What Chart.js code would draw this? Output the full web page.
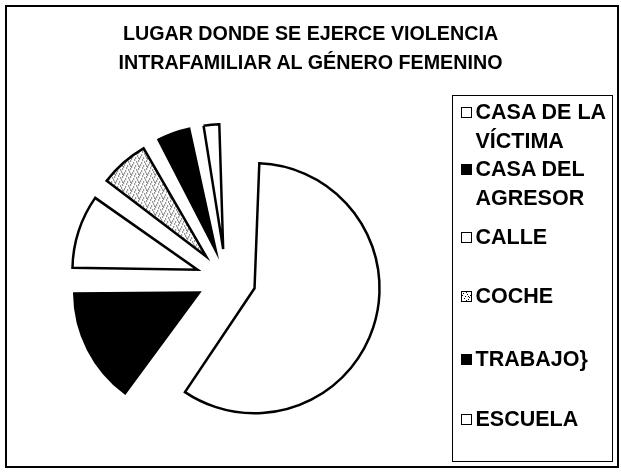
<!DOCTYPE html>
<html lang="es">
<head>
    <meta charset="UTF-8">
    <meta name="viewport" content="width=device-width, initial-scale=1.0">
    <title>Lugar donde se ejerce violencia intrafamiliar</title>
    <!-- Incluye la biblioteca Chart.js -->
    <script src="https://cdn.jsdelivr.net/npm/chart.js"></script>
    <style>
        body { margin: 0; background: #fff; }
        .container {
            position: relative; width: 621px; height: 472px;
            font-family: 'Liberation Sans', Arial, sans-serif; font-weight: bold; color: #000;
        }
        canvas { position: absolute; left: 0; top: 0; }
        .marco {
            position: absolute; left: 5px; top: 5px; width: 614px; height: 463px;
            border: 2px solid #000; box-sizing: border-box;
        }
        h1 {
            position: absolute; left: 0; top: 19px; width: 621px; margin: 0;
            text-align: center; font-size: 19.7px; line-height: 28.5px; font-weight: bold;
        }
        .leyenda {
            position: absolute; left: 452px; top: 95px; width: 161px; height: 367px;
            border: 1.5px solid #000; box-sizing: border-box; background: #fff;
        }
        .item { position: absolute; left: 22.5px; font-size: 21.5px; line-height: 29px; white-space: nowrap; }
        .caja {
            position: absolute; left: -15px; top: 9px; width: 11px; height: 11px;
            border: 1.5px solid #000; box-sizing: border-box;
        }
    </style>
</head>
<body>
    <div class="container">
        <canvas id="grafica" width="621" height="472"></canvas>
        <div class="marco"></div>
        <h1>LUGAR DONDE SE EJERCE VIOLENCIA<br>INTRAFAMILIAR AL GÉNERO FEMENINO</h1>
        <div class="leyenda" id="leyenda"></div>
    </div>

    <script>
        const lugares = [['CASA DE LA', 'VÍCTIMA'], ['CASA DEL', 'AGRESOR'], 'CALLE', 'COCHE', 'TRABAJO}', 'ESCUELA'];
        const porcentajes = [60, 15, 10, 7, 5, 3];
        const tipoRelleno = ['blanco', 'negro', 'blanco', 'punteado', 'negro', 'blanco'];

        // Posición vertical de cada entrada dentro de la leyenda
        const posLeyenda = [2, 59, 127, 186, 249, 309];
        const radioPastel = 125;

        // Patrón punteado para "COCHE"
        const lienzoPatron = document.createElement('canvas');
        lienzoPatron.width = 8;
        lienzoPatron.height = 8;
        const pctx = lienzoPatron.getContext('2d');
        pctx.fillStyle = '#fff';
        pctx.fillRect(0, 0, 8, 8);
        pctx.fillStyle = '#000';
        [[1, 1], [5, 2], [3, 4], [7, 5], [2, 6], [6, 7], [0, 3], [4, 0], [6, 4]].forEach(p => pctx.fillRect(p[0], p[1], 1, 1));
        const patron = pctx.createPattern(lienzoPatron, 'repeat');

        const colores = { blanco: '#ffffff', negro: '#000000', punteado: patron };
        const rellenos = tipoRelleno.map(t => colores[t]);

        // Leyenda en HTML (etiquetas de dos líneas)
        const leyenda = document.getElementById('leyenda');
        lugares.forEach((lugar, i) => {
            const item = document.createElement('div');
            item.className = 'item';
            item.style.top = posLeyenda[i] + 'px';
            const caja = document.createElement('span');
            caja.className = 'caja';
            if (tipoRelleno[i] === 'negro') caja.style.background = '#000';
            if (tipoRelleno[i] === 'punteado') caja.style.background = 'url(' + lienzoPatron.toDataURL() + ')';
            item.appendChild(caja);
            const texto = document.createElement('span');
            texto.innerHTML = [].concat(lugar).join('<br>');
            item.appendChild(texto);
            leyenda.appendChild(item);
        });

        // Chart.js v4 agranda el radio de cada porción separada según su ángulo;
        // aquí se compensa para que todas tengan el mismo radio
        const radioUniforme = {
            id: 'radioUniforme',
            beforeDatasetsDraw(chart) {
                chart.getDatasetMeta(0).data.forEach(arco => {
                    const desplazamiento = (arco.options.offset || 0) / 4;
                    const fix = 1 - Math.sin(Math.min(Math.PI, arco.circumference));
                    arco.outerRadius = radioPastel - desplazamiento * fix;
                });
            }
        };

        // Crear el gráfico de pastel con las porciones separadas (offset/4 = 30 px)
        new Chart(document.getElementById('grafica'), {
            type: 'pie',
            data: {
                labels: lugares,
                datasets: [{
                    data: porcentajes,
                    backgroundColor: rellenos,
                    borderColor: '#000',
                    borderWidth: 2.5,
                    borderJoinStyle: 'miter',
                    offset: 120
                }]
            },
            options: {
                responsive: false,
                animation: false,
                radius: radioPastel,
                layout: { padding: { left: 10, right: 179, top: 86, bottom: 0 } },
                plugins: {
                    legend: { display: false },
                    title: { display: false },
                    tooltip: { enabled: false }
                }
            },
            plugins: [radioUniforme]
        });
    </script>
</body>
</html>
